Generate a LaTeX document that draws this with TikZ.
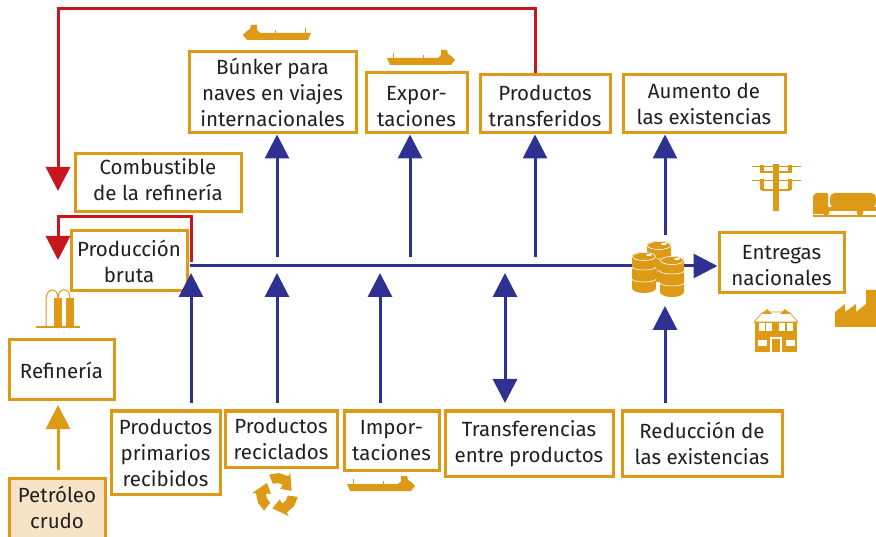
\documentclass[tikz,border=0pt]{standalone}
\usepackage{fontspec}
\setmainfont{Fira Sans}
\usetikzlibrary{arrows.meta}
\definecolor{gold}{HTML}{DC9A17}
\definecolor{navy}{HTML}{2E3192}
\definecolor{crimson}{HTML}{C8161F}
\definecolor{paleorange}{HTML}{F7E3C5}
\definecolor{inktext}{HTML}{231F20}
\tikzset{
 box/.style={draw=gold,line width=3pt,fill=white,inner sep=0pt,align=center,text=inktext,font=\fontsize{20.5}{26}\selectfont},
 textdown/.style={execute at begin node={\rule{0pt}{#1}}},
 textup/.style={execute at end node={\rule[-#1]{0pt}{0pt}}},
 flow/.style={line width=3pt,-{Triangle[length=24pt,width=24pt]}},
 twoflow/.style={line width=3pt,{Triangle[length=24pt,width=24pt]}-{Triangle[length=24pt,width=24pt]}},
 pics/ship/.style={code={
  \fill[gold](0,-7)--(51,-7)--(54,-10)--(54,-15)--(60,-15)--(61,-11)--(64,-9)--(68,-5)--(64,0)--(3,0)--cycle;
  \draw[gold,line width=0.6pt](6,-6)--(6,-12);
  \draw[gold,line width=0.6pt](36,-6)--(36,-10);
 }},
 pics/barrel/.style={code={
  \fill[gold](-12,4)--(-12,36) arc[x radius=12,y radius=5,start angle=180,end angle=0]--(12,4)--cycle;
  \fill[gold](0,4) ellipse[x radius=12,y radius=4];
  \draw[white,line width=0.7pt](0,4.5) ellipse[x radius=11.5,y radius=4];
  \fill[gold](0,4.5) ellipse[x radius=10.8,y radius=3.3];
  \fill[white](5,3) ellipse[x radius=3,y radius=1];
  \draw[white,line width=0.6pt](-12,15) arc[x radius=12,y radius=3,start angle=180,end angle=0];
  \draw[white,line width=0.6pt](-12,27) arc[x radius=12,y radius=3,start angle=180,end angle=0];
 }}
}
\begin{document}
\begin{tikzpicture}[x=1pt,y=-1pt]
 \clip (0,0) rectangle (876,537);
 \node[box,minimum width=167pt,minimum height=81pt] (bunker) at (272.5,92.5) {Búnker para\\naves en viajes\\internacionales};
 \node[box,textdown=47pt,minimum width=101pt,minimum height=60pt] (export) at (416.5,103) {Expor-\\taciones};
 \node[box,textdown=46pt,minimum width=130pt,minimum height=58pt] (transfer) at (545,104) {Productos\\transferidos};
 \node[box,minimum width=162pt,minimum height=58pt] (increase) at (704,104) {Aumento de\\las existencias};
 \node[box,textup=7pt,minimum width=166pt,minimum height=58pt] (fuel) at (158,183) {Combustible\\de la refinería};
 \node[box,minimum width=116pt,minimum height=60pt] (gross) at (129,261) {Producción\\bruta};
 \node[box,minimum width=105pt,minimum height=60pt] (refinery) at (61.5,370) {Refinería};
 \node[box,textup=7pt,fill=paleorange,minimum width=96pt,minimum height=66pt] (crude) at (57,511) {Petróleo\\crudo};
 \node[box,minimum width=109pt,minimum height=83pt] (primary) at (165.5,452.5) {Productos\\primarios\\recibidos};
 \node[box,minimum width=112pt,minimum height=56pt] (recycled) at (281,439) {Productos\\reciclados};
 \node[box,minimum width=95pt,minimum height=59pt] (import) at (391.5,440.5) {Impor-\\taciones};
 \node[box,minimum width=168pt,minimum height=65pt] (between) at (529,443.5) {Transferencias\\entre productos};
 \node[box,minimum width=160pt,minimum height=65pt] (decrease) at (702,443.5) {Reducción de\\las existencias};
 \node[box,textdown=46pt,minimum width=125pt,minimum height=60pt] (deliver) at (781.5,263) {Entregas\\nacionales};

 \coordinate (busstart) at (190,266);
 \coordinate (busa) at (277,257);
 \coordinate (busb) at (410,257);
 \coordinate (busc) at (535,257);
 \coordinate (busd) at (665,235);
 \coordinate (lowa) at (191,403);
 \coordinate (lowb) at (277,403);
 \coordinate (lowc) at (380,403);
 \coordinate (lowd) at (505,403);
 \coordinate (lowe) at (665,403);
 \coordinate (tipa) at (191,273);
 \coordinate (tipb) at (277,273);
 \coordinate (tipc) at (380,273);
 \coordinate (tipd) at (505,273);
 \coordinate (tipe) at (665,306);
 \coordinate (redtop) at (535,9);
 \coordinate (redleft) at (58,9);
 \coordinate (redtip) at (58,191);
 \coordinate (backstart) at (191,262);
 \coordinate (backtop) at (191,217);
 \coordinate (backleft) at (58,217);
 \coordinate (backtip) at (58,260);
 \coordinate (crudetop) at (58,470);
 \coordinate (refinerytip) at (58,405);

 \draw[flow,navy] (busa) -- (busa |- bunker.south);
 \draw[flow,navy] (busb) -- (busb |- export.south);
 \draw[flow,navy] (busc) -- (busc |- transfer.south);
 \draw[flow,navy] (busd) -- (busd |- increase.south);
 \draw[flow,navy] (busstart) -- (busstart -| deliver.west);
 \draw[flow,navy] (lowa) -- (tipa);
 \draw[flow,navy] (lowb) -- (tipb);
 \draw[flow,navy] (lowc) -- (tipc);
 \draw[twoflow,navy] (lowd) -- (tipd);
 \draw[flow,navy] (lowe) -- (tipe);
 \draw[flow,crimson] (transfer.north -| redtop) -- (redtop) -- (redleft) -- (redtip);
 \draw[flow,crimson] (backstart) -- (backtop) -- (backleft) -- (backtip);
 \draw[flow,gold] (crudetop) -- (refinerytip);

 \pic[xscale=-1] at (311,40) {ship};
 \pic at (387,65) {ship};
 \pic at (347,491) {ship};

 \pic at (659,241) {barrel};
 \pic at (644,252) {barrel};
 \pic at (672,256) {barrel};

 \draw[gold,line width=2pt](36,327)--(80,327);
 \fill[gold](54,298) rectangle (62,327);
 \fill[gold](66,298) rectangle (74,327);
 \draw[gold,line width=1pt](46,327)--(46,300) .. controls (46,287) and (58,287) .. (58,298);
 \draw[gold,line width=1pt](58,298) .. controls (58,287) and (70,287) .. (70,298);

 \foreach \ang in {0,120,240} {
  \fill[gold,shift={(277,494)},rotate=\ang]
   (8:11)--(8:21)--(35:21)--(62:21)--(62:25)--(108:15)--(62:6)--(62:11)--(35:11)--cycle;
 }

 \fill[gold](773,164) rectangle (779,211);
 \draw[gold,line width=0.8pt](752,166)--(801,166);
 \draw[gold,line width=0.8pt](752,180)--(801,180);
 \draw[gold,line width=1.6pt](762,172)--(790,172);
 \draw[gold,line width=1.6pt](762,190)--(790,190);
 \foreach \xa in {762,790} {
  \fill[gold](\xa-2,165) rectangle (\xa+2,173);
  \fill[gold](\xa-2,179) rectangle (\xa+2,190);
 }

 \fill[gold](813,196)--(816,193)--(828,193)--(828,214)--(813,214)--cycle;
 \fill[gold,rounded corners=5pt](830,193) rectangle (876,208);
 \fill[gold](828,207) rectangle (876,211);
 \fill[gold](826,212) circle (3.5);
 \fill[gold](860,212) circle (3.5);
 \draw[gold,line width=1.4pt](813,216)--(876,216);

 \fill[gold](835,327)--(835,312)--(845,304)--(845,312)--(856,304)--(856,312)--(866,304)--(866,290)--(876,290)--(876,327)--cycle;

 \draw[gold,line width=0.7pt](754,322)--(763,312)--(789,312)--(798,322)--cycle;
 \fill[gold](755,322) rectangle (797,352);
 \fill[gold](762,314)--(767,309)--(772,314)--cycle;
 \fill[gold](780,314)--(785,309)--(790,314)--cycle;
 \foreach \xa in {759,766,779,787} {
  \fill[white](\xa,323) rectangle (\xa+6,331);
 }
 \fill[white](758,340) rectangle (767,346);
 \fill[white](786,340) rectangle (795,346);
 \fill[white](770,337) rectangle (782,352);
 \fill[gold](772,339) rectangle (780,352);
\end{tikzpicture}
\end{document}
